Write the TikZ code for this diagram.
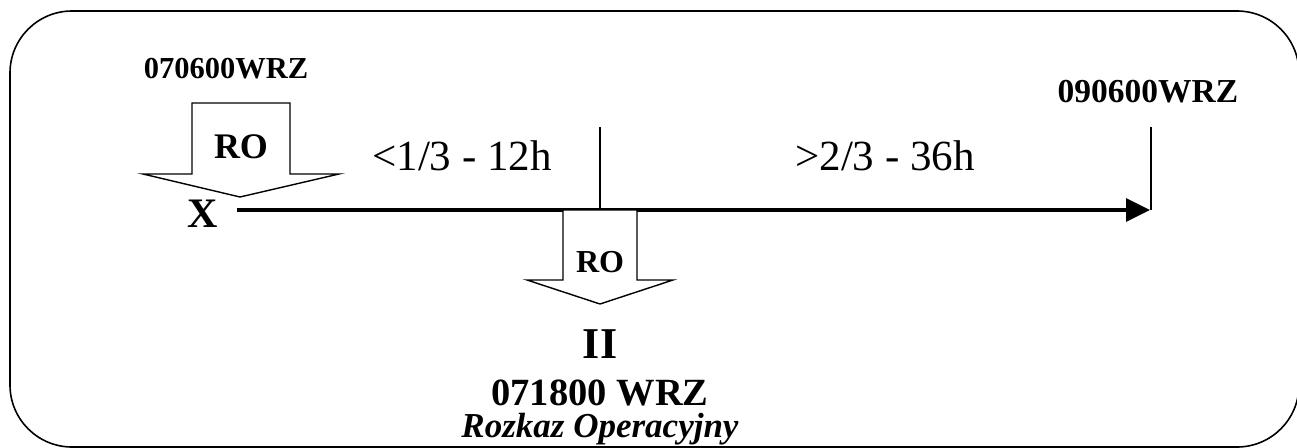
\documentclass[tikz,border=0pt]{standalone}
\usepackage{fontspec}
\setmainfont{Liberation Serif}
\usetikzlibrary{arrows.meta}

\begin{document}
\begin{tikzpicture}[x=1pt, y=-1pt,
      txt/.style={anchor=base, inner sep=0pt},
      bold/.style={txt, font=\bfseries\fontsize{#1}{#1}\selectfont},
      plain/.style={txt, font=\fontsize{#1}{#1}\selectfont},
      blockarrow/.style={draw, line width=1.4pt, line join=miter, fill=white},
    ]
      \useasboundingbox (0,0) rectangle (1297,447);

      % frame
      \draw[line width=1.6pt, rounded corners=62pt] (10,11) rectangle (1299,447);

      % time axis
      \coordinate (start) at (237,210);
      \coordinate (stop)  at (1150,210);
      \coordinate (mid)   at (600,210);
      \coordinate (midtop) at (600,127);
      \coordinate (endtop) at (1151,127);
      \draw[line width=3.5pt, -{Triangle[length=24pt, width=23pt]}] (start) -- (stop);
      \draw[line width=1.4pt] (endtop) -- (stop -| endtop);
      \draw[line width=2.6pt] (midtop) -- (mid);

      % orders
      \draw[blockarrow] (192,103) -- (290,103) -- (290,174) -- (339,174)
        -- (240,197) -- (143,174) -- (192,174) -- cycle;
      \draw[blockarrow] (563,210) -- (637,210) -- (637,280) -- (673,280)
        -- (600,304) -- (527,280) -- (563,280) -- cycle;

      \node[bold=36] (ro1) at (241,158) {RO};
      \node[bold=32] (ro2) at (600,272) {RO};

      \node[bold=30.5] (t1) at (226,78)  {070600WRZ};
      \node[bold=33.5] (t3) at (1148,102) {090600WRZ};
      \node[bold=42] (x)  at (203,227) {X};
      \node[plain=43] (p1) at (462,170) {<1/3 - 12h};
      \node[plain=43] (p2) at (885,170) {>2/3 - 36h};

      \node[bold=44] (ii) at (600,358) {II};
      \node[bold=38.5] (t2) at (600,405) {071800 WRZ};
      \node[txt, font=\bfseries\itshape\fontsize{35}{35}\selectfont] (ro) at (600,437)
        {Rozkaz Operacyjny};
    \end{tikzpicture}
\end{document}
